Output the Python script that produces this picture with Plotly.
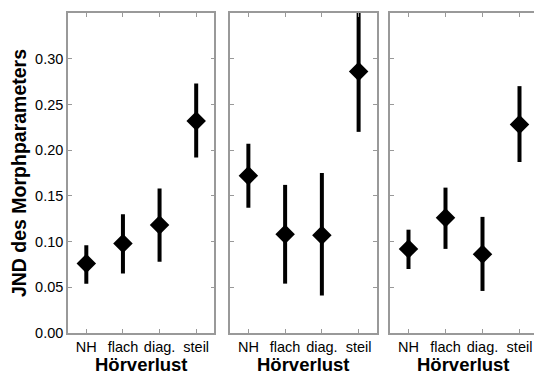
import plotly.graph_objects as go
from plotly.subplots import make_subplots

categories = ["NH", "flach", "diag.", "steil"]
y_ticks = [0.00, 0.05, 0.10, 0.15, 0.20, 0.25, 0.30]
y_tick_labels = ["0.00", "0.05", "0.10", "0.15", "0.20", "0.25", "0.30"]
x_title = "Hörverlust"
y_title = "JND des Morphparameters"

# panel 1
p1_mean = [0.076, 0.098, 0.118, 0.232]
p1_low = [0.054, 0.065, 0.078, 0.192]
p1_high = [0.096, 0.130, 0.158, 0.273]
# panel 2
p2_mean = [0.172, 0.108, 0.107, 0.286]
p2_low = [0.137, 0.054, 0.041, 0.220]
p2_high = [0.207, 0.162, 0.175, 0.352]
# panel 3
p3_mean = [0.092, 0.126, 0.086, 0.228]
p3_low = [0.070, 0.092, 0.046, 0.187]
p3_high = [0.113, 0.159, 0.127, 0.270]

panels = [(p1_mean, p1_low, p1_high), (p2_mean, p2_low, p2_high), (p3_mean, p3_low, p3_high)]
FONT = "Liberation Sans, Arial"

fig = make_subplots(rows=1, cols=3)
for i, (m, lo, hi) in enumerate(panels):
    fig.add_trace(go.Scatter(
        x=list(range(len(categories))), y=m, mode="markers",
        marker=dict(symbol="diamond", size=15, color="black"),
        error_y=dict(type="data", symmetric=False,
                     array=[h - v for h, v in zip(hi, m)],
                     arrayminus=[v - l for v, l in zip(m, lo)],
                     color="black", thickness=4, width=0),
        showlegend=False), row=1, col=i + 1)

# figure is slightly wider than the window so the third panel is cut at the right like the original
domains = [[0, 0.3117], [0.3447, 0.6574], [0.6851, 1.0]]
axcol = "#999999"
for i in range(3):
    fig.update_xaxes(domain=domains[i], range=[-0.5, 3.5], tickmode="array",
                     tickvals=list(range(4)), ticktext=categories,
                     ticks="inside", ticklen=4, tickcolor=axcol,
                     showline=True, linecolor=axcol, linewidth=1.5, mirror="ticks",
                     showgrid=False, zeroline=False, automargin=False,
                     tickfont=dict(family=FONT, size=14.5, color="black"),
                     row=1, col=i + 1)
    fig.update_yaxes(range=[0, 0.35], tickmode="array", tickvals=y_ticks,
                     ticktext=y_tick_labels, showticklabels=(i == 0),
                     ticks="inside", ticklen=4, tickcolor=axcol,
                     showline=True, linecolor=axcol, linewidth=1.5, mirror="ticks",
                     showgrid=False, zeroline=False, automargin=False,
                     tickfont=dict(family=FONT, size=14.5, color="black"),
                     row=1, col=i + 1)
    d = domains[i]
    fig.add_annotation(text="<b>" + x_title + "</b>", xref="paper", yref="paper",
                       x=(d[0] + d[1]) / 2, y=-0.097, xanchor="center", yanchor="middle",
                       showarrow=False, font=dict(family=FONT, size=18.5, color="black"))

fig.add_annotation(text="<b>" + y_title + "</b>", xref="paper", yref="paper",
                   x=-0.104, y=0.5, textangle=-90, xanchor="center", yanchor="middle",
                   showarrow=False, font=dict(family=FONT, size=19.5, color="black"))

fig.update_layout(width=538, height=374, margin=dict(l=68, r=0, t=13, b=41),
                  plot_bgcolor="white", paper_bgcolor="white")
fig.write_html("out.html", config={"displayModeBar": False},
               post_script="document.body.style.margin='0';document.body.style.overflow='hidden';")
